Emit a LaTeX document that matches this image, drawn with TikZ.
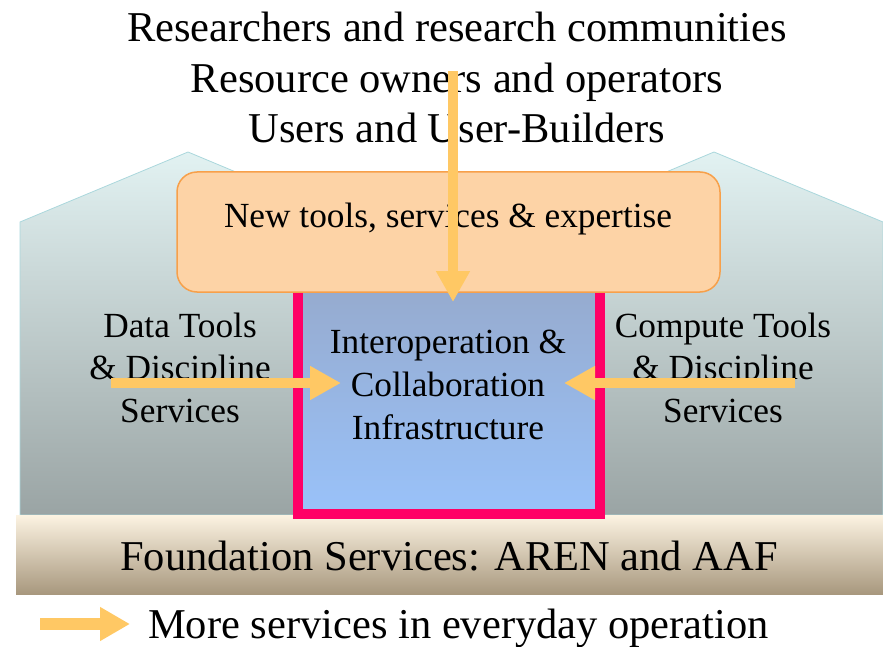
\documentclass[tikz,border=0pt]{standalone}
\usepackage{fontspec}
\setmainfont{Liberation Serif}
\usetikzlibrary{arrows.meta}
\definecolor{arrowc}{RGB}{255,200,100}
\definecolor{houseTop}{RGB}{226,242,242}
\definecolor{houseBot}{RGB}{154,164,164}
\definecolor{houseEdge}{RGB}{170,215,220}
\definecolor{foundTop}{RGB}{252,243,226}
\definecolor{foundMid}{RGB}{232,218,196}
\definecolor{foundBot}{RGB}{168,152,126}
\definecolor{infraTop}{RGB}{150,170,205}
\definecolor{infraBot}{RGB}{153,194,250}
\definecolor{pinkc}{RGB}{255,0,102}
\definecolor{orangeFill}{RGB}{253,211,166}
\definecolor{orangeEdge}{RGB}{247,160,74}
\begin{document}
\begin{tikzpicture}[x=1pt,y=-1pt,
  big/.style={font=\fontsize{42.5}{50.5}\selectfont, inner sep=0pt, align=center, anchor=base},
  mid/.style={font=\fontsize{35.3}{42.5}\selectfont, inner sep=0pt, align=center, anchor=base},
  flow/.style={draw=arrowc, line width=10pt, -{Triangle[width=32pt,length=31pt]}},
  legflow/.style={draw=arrowc, line width=12pt, -{Triangle[width=32pt,length=30pt]}}]
\useasboundingbox (0,0) rectangle (883,647);
% house shapes
\path[shade, top color=houseTop, bottom color=houseBot, draw=houseEdge, line width=0.8pt]
  (20,515) -- (20,222) -- (188,152) -- (451,262) -- (714,152) -- (883,222) -- (883,515) -- cycle;
% foundation band
\path[shade, top color=foundTop, middle color=foundMid, bottom color=foundBot] (16,515) rectangle (883,594);
% infrastructure box
\path[shade, top color=infraTop, bottom color=infraBot] (297,280) rectangle (600,514);
\draw[pinkc, line width=10pt] (297.5,280) -- (297.5,513.5) -- (599.5,513.5) -- (599.5,280);
% new tools box
\node[draw=orangeEdge, fill=orangeFill, rounded corners=20pt, minimum width=543pt, minimum height=120pt, line width=1.5pt, inner sep=0pt] (newtools) at (448.5,232) {};
% texts (multi-line nodes anchored at the baseline of their last line)
\node[big] (audience) at (457,143) {Researchers and research communities\\Resource owners and operators\\Users and User-Builders};
\node[mid] (newtoolslabel) at (448,227) {New tools, services \& expertise};
\node[mid] (data) at (180,422) {Data Tools\\\& Discipline\\Services};
\node[mid] (compute) at (723,422) {Compute Tools\\\& Discipline\\Services};
\node[mid, font=\fontsize{35.3}{43}\selectfont] (infra) at (448,439) {Interoperation \&\\Collaboration\\Infrastructure};
\node[big] (found) at (449,570) {Foundation Services: AREN and AAF};
\node[big, anchor=base west] (legend) at (148,638) {More services in everyday operation};
% arrows
\coordinate (vstart) at (453,71);
\coordinate (vend) at (453,302);
\coordinate (lstart) at (111,383);
\coordinate (lend) at (341,383);
\coordinate (rstart) at (795,383);
\coordinate (rend) at (564,383);
\coordinate (legstart) at (40,624);
\coordinate (legend-tip) at (130,624);
\draw[flow] (vstart) -- (vend);
\draw[flow] (lstart) -- (lend);
\draw[flow] (rstart) -- (rend);
\draw[legflow] (legstart) -- (legend-tip);
\end{tikzpicture}
\end{document}
